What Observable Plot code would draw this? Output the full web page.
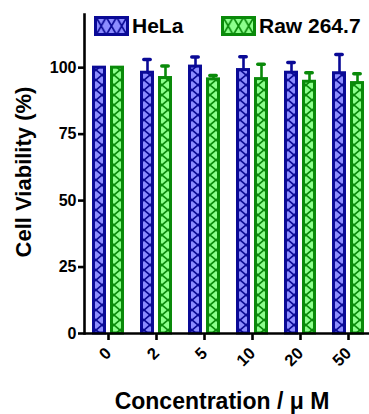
<!DOCTYPE html>
<html><head><meta charset="utf-8">
<script src="https://cdn.jsdelivr.net/npm/d3@7"></script>
<script src="https://cdn.jsdelivr.net/npm/@observablehq/plot@0.6"></script>
<style>
html,body{margin:0;padding:0;overflow:hidden;background:#fff;}
#wrap{position:relative;width:369px;height:414px;overflow:hidden;font-family:"Liberation Sans",Arial,sans-serif;font-weight:bold;color:#000;}
#wrap svg.plot{position:absolute;left:0;top:0;}
.ov{position:absolute;white-space:nowrap;line-height:1;}
.lg{position:absolute;display:flex;align-items:center;}
</style></head><body><div id="wrap"></div>
<script>
// ---- data ----
const concentrations = ["0", "2", "5", "10", "20", "50"];
const seriesNames = ["HeLa", "Raw 264.7"];
const helaMean = [100, 98.1, 100.4, 99.1, 98.1, 97.9];
const helaErr  = [0, 5.0, 3.6, 5.0, 3.8, 7.1];
const rawMean  = [100, 96.1, 95.6, 95.7, 94.7, 94.2];
const rawErr   = [0, 4.5, 1.5, 5.6, 3.4, 3.5];
const yTicks = [0, 25, 50, 75, 100];
const xTitle = "Concentration / \u03bc M";
const yTitle = "Cell Viability (%)";

const dark = {"HeLa": "#0a0a96", "Raw 264.7": "#0a8a0a"};
const light = {"HeLa": "#8c8cff", "Raw 264.7": "#8cff8c"};
const pid = {"HeLa": "patHeLa", "Raw 264.7": "patRaw"};
const offset = {"HeLa": -9, "Raw 264.7": 9};

const rows = [];
concentrations.forEach((c, i) => {
  rows.push({conc: c, series: "HeLa", mean: helaMean[i], err: helaErr[i]});
  rows.push({conc: c, series: "Raw 264.7", mean: rawMean[i], err: rawErr[i]});
});

const marks = [];
for (const s of seriesNames) {
  const d = rows.filter(r => r.series === s);
  const de = d.filter(r => r.err > 0);
  marks.push(Plot.ruleX(de, {x: "conc", y1: "mean", y2: r => r.mean + r.err, stroke: dark[s], strokeWidth: 2.6, dx: offset[s]}));
  marks.push(Plot.barY(d, {x: "conc", y: "mean", fill: `url(#${pid[s]})`, stroke: dark[s], strokeWidth: 3, insetLeft: 18.5, insetRight: 18.5, dx: offset[s]}));
  marks.push(Plot.tickY(de, {x: "conc", y: r => r.mean + r.err, stroke: dark[s], strokeWidth: 3.5, strokeLinecap: "round", insetLeft: 20.8, insetRight: 20.8, dx: offset[s]}));
}

const plot = Plot.plot({
  width: 369,
  height: 414,
  marginLeft: 84,
  marginRight: -3,
  marginTop: 14,
  marginBottom: 81,
  style: {fontFamily: '"Liberation Sans", Arial, sans-serif', color: "#000", background: "transparent"},
  x: {domain: concentrations, padding: 0, label: null},
  y: {domain: [0, 120], label: null},
  marks: [
    ...marks,
    Plot.ruleY([0], {stroke: "#000", strokeWidth: 2.6}),
    Plot.frame({anchor: "left", stroke: "#000", strokeWidth: 2.6}),
    Plot.axisY({ticks: yTicks, tickSize: 6, tickPadding: 2, fontSize: 16, fontWeight: "bold", strokeWidth: 2.6, label: null}),
    Plot.axisX({tickRotate: -45, tickSize: 7, tickPadding: 10, fontSize: 16.5, fontWeight: "bold", strokeWidth: 2.6, label: null})
  ]
});

const wrap = document.getElementById("wrap");
wrap.appendChild(plot);

// patterns aligned to the bars using the x scale
const xs = plot.scale("x");
const bw = xs.bandwidth;
const svg = d3.select(plot);
const defs = svg.insert("defs", ":first-child");
for (const s of seriesNames) {
  const cx = xs.apply(concentrations[0]) + bw / 2 + offset[s];
  const p = defs.append("pattern").attr("id", pid[s]).attr("patternUnits", "userSpaceOnUse")
    .attr("x", cx - 6).attr("y", 0).attr("width", 12).attr("height", 10);
  p.append("rect").attr("width", 12).attr("height", 10).attr("fill", light[s]);
  p.append("path").attr("d", "M-1.1,-1L13.1,11M13.1,-1L-1.1,11").attr("stroke", dark[s]).attr("stroke-width", 1.7).attr("fill", "none");
}

// legend
const legendPos = {"HeLa": 94, "Raw 264.7": 221};
for (const s of seriesNames) {
  const g = document.createElement("div");
  g.className = "lg";
  g.style.left = legendPos[s] + "px";
  g.style.top = "15px";
  g.innerHTML = `<svg width="35" height="20" style="display:block">
    <defs><pattern id="lp${pid[s]}" patternUnits="userSpaceOnUse" x="2" y="1" width="10.3" height="18">
      <rect width="10.3" height="18" fill="${light[s]}"/>
      <path d="M-1,-1.7L11.3,19.7M11.3,-1.7L-1,19.7" stroke="${dark[s]}" stroke-width="1.7" fill="none"/></pattern></defs>
    <rect x="1.5" y="1.5" width="32" height="17" fill="url(#lp${pid[s]})" stroke="${dark[s]}" stroke-width="3"/></svg>
    <span style="font-size:21px;margin-left:3px;line-height:1">${s}</span>`;
  wrap.appendChild(g);
}

// axis titles
const xt = document.createElement("div");
xt.className = "ov";
xt.textContent = xTitle;
xt.style.fontSize = "23px";
xt.style.width = "300px";
xt.style.textAlign = "center";
xt.style.left = (222 - 150) + "px";
xt.style.top = "390px";
wrap.appendChild(xt);

const yt = document.createElement("div");
yt.className = "ov";
yt.textContent = yTitle;
yt.style.fontSize = "22px";
yt.style.width = "300px";
yt.style.height = "22px";
yt.style.textAlign = "center";
yt.style.left = (24 - 150) + "px";
yt.style.top = (172 - 11) + "px";
yt.style.transform = "rotate(-90deg)";
wrap.appendChild(yt);
</script></body></html>
